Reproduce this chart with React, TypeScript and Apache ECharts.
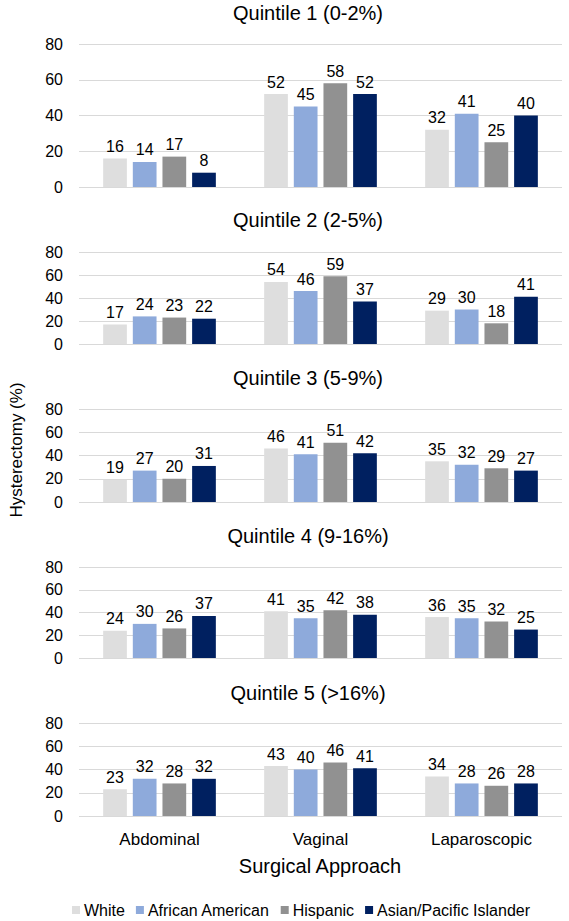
import React, { useEffect, useRef } from "react";
import * as echarts from "echarts";

const categories = ["Abdominal", "Vaginal", "Laparoscopic"];
const quintileTitles = [
  "Quintile 1 (0-2%)",
  "Quintile 2 (2-5%)",
  "Quintile 3 (5-9%)",
  "Quintile 4 (9-16%)",
  "Quintile 5 (>16%)",
];
const raceNames = ["White", "African American", "Hispanic", "Asian/Pacific Islander"];
// per quintile: [Abdominal, Vaginal, Laparoscopic]
const white = [
  [16, 52, 32],
  [17, 54, 29],
  [19, 46, 35],
  [24, 41, 36],
  [23, 43, 34],
];
const africanAmerican = [
  [14, 45, 41],
  [24, 46, 30],
  [27, 41, 32],
  [30, 35, 35],
  [32, 40, 28],
];
const hispanic = [
  [17, 58, 25],
  [23, 59, 18],
  [20, 51, 29],
  [26, 42, 32],
  [28, 46, 26],
];
const asianPacific = [
  [8, 52, 40],
  [22, 37, 41],
  [31, 42, 27],
  [37, 38, 25],
  [32, 41, 28],
];
const yMax = 80;
const yInterval = 20;
const yAxisName = "Hysterectomy (%)";
const xAxisName = "Surgical Approach";

const raceData = [white, africanAmerican, hispanic, asianPacific];
const raceColors = ["#DEDEDE", "#8EAADB", "#919191", "#002060"];

const gridTops = [44, 252, 409, 567, 723];
const gridHeights = [143, 92, 93, 91, 93];
const titleCenters = [13, 220, 378, 536, 693];

const FONT = "'Liberation Sans', Arial, Helvetica, sans-serif";

export default function App() {
  const ref = useRef<HTMLDivElement>(null);
  useEffect(() => {
    if (!ref.current) return;
    const chart = echarts.init(ref.current, undefined, { renderer: "svg" });
    const grids = gridTops.map((t, i) => ({
      left: 79,
      right: 7,
      top: t,
      height: gridHeights[i],
      containLabel: false,
    }));
    const xAxes = gridTops.map((_, i) => ({
      type: "category",
      gridIndex: i,
      data: categories,
      axisLine: { show: false },
      axisTick: { show: false },
      axisLabel: {
        show: i === gridTops.length - 1,
        fontSize: 17,
        color: "#000",
        fontFamily: FONT,
        margin: 15,
      },
    }));
    const yAxes = gridTops.map((_, i) => ({
      type: "value",
      gridIndex: i,
      min: 0,
      max: yMax,
      interval: yInterval,
      axisLine: { show: false },
      axisTick: { show: false },
      splitLine: { show: true, lineStyle: { color: "#D9D9D9", width: 1 } },
      axisLabel: {
        fontSize: 16,
        color: "#000",
        fontFamily: FONT,
        margin: 16,
      },
    }));
    const series: any[] = [];
    gridTops.forEach((_, qi) => {
      raceNames.forEach((name, ri) => {
        series.push({
          type: "bar",
          name,
          xAxisIndex: qi,
          yAxisIndex: qi,
          data: raceData[ri][qi],
          barCategoryGap: "30%",
          barGap: "25%",
          itemStyle: { color: raceColors[ri] },
          label: {
            show: true,
            position: "top",
            distance: 4,
            fontSize: 16,
            color: "#000",
            fontFamily: FONT,
          },
        });
      });
    });
    const graphics: any[] = quintileTitles.map((t, i) => ({
      type: "text",
      x: 308,
      y: titleCenters[i],
      style: {
        text: t,
        fontSize: 20,
        fill: "#000",
        fontFamily: FONT,
        textAlign: "center",
        textVerticalAlign: "middle",
      },
    }));
    graphics.push({
      type: "text",
      x: 16,
      y: 450,
      rotation: Math.PI / 2,
      style: {
        text: yAxisName,
        fontSize: 17,
        fill: "#000",
        fontFamily: FONT,
        textAlign: "center",
        textVerticalAlign: "middle",
      },
    });
    graphics.push({
      type: "text",
      x: 320,
      y: 866,
      style: {
        text: xAxisName,
        fontSize: 20,
        fill: "#000",
        fontFamily: FONT,
        textAlign: "center",
        textVerticalAlign: "middle",
      },
    });
    chart.setOption({
      animation: false,
      backgroundColor: "#fff",
      grid: grids,
      xAxis: xAxes,
      yAxis: yAxes,
      series,
      graphic: graphics,
      legend: {
        data: raceNames.map((n) => ({ name: n, icon: "rect" })),
        left: 72,
        top: 902,
        padding: 0,
        itemWidth: 8,
        itemHeight: 8,
        itemGap: 11,
        textStyle: { fontSize: 16, color: "#000", fontFamily: FONT, padding: [0, 0, 0, -1] },
      },
    });
    return () => chart.dispose();
  }, []);
  return (
    <div
      ref={ref}
      style={{ position: "fixed", left: 0, top: 0, width: 569, height: 921, background: "#fff" }}
    />
  );
}
